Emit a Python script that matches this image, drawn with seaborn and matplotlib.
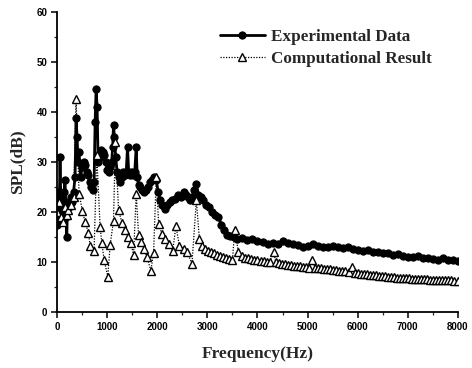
import matplotlib
matplotlib.use("Agg")
import matplotlib.pyplot as plt
import seaborn as sns
import pandas as pd
from matplotlib.ticker import MultipleLocator

exp_freq = [0, 20, 40, 60, 80, 100, 120, 140, 160, 180, 195, 210, 240, 270, 300, 330, 360,
            380, 400, 420, 440, 470, 500, 530, 560, 590, 620, 650, 680, 710, 740, 760, 780,
            800, 820, 850, 880, 910, 940, 970, 1000, 1030, 1060, 1090, 1110, 1127, 1145, 1170,
            1200, 1230, 1260, 1290, 1320, 1350, 1380, 1407, 1430, 1460, 1490, 1520, 1550, 1580,
            1600, 1630, 1660, 1700, 1740, 1780, 1820, 1860, 1900, 1940, 1980, 2020, 2060, 2100,
            2160, 2200, 2250, 2300, 2360, 2420, 2480, 2530, 2580, 2620, 2660, 2700, 2740, 2780,
            2820, 2870, 2920, 2970, 3030, 3090, 3150, 3220, 3280, 3330, 3400, 3460, 3530, 3600,
            3700, 3800, 3900, 4000, 4100, 4200, 4300, 4400, 4500, 4600, 4700, 4800, 4900, 5000,
            5100, 5200, 5300, 5400, 5500, 5600, 5700, 5800, 5900, 6000, 6100, 6200, 6300, 6400,
            6500, 6600, 6700, 6800, 6900, 7000, 7100, 7200, 7300, 7400, 7500, 7600, 7700, 7800,
            7900, 8000]
exp_spl = [17.5, 24, 18, 31, 20, 23, 18, 24, 26.5, 19, 15, 22, 21, 23, 22, 24, 27,
           38.8, 35, 30, 32, 27, 29, 30, 29.5, 28, 27.5, 26, 25, 24.5, 26, 38, 44.7,
           41, 30, 31, 32.4, 32, 31.5, 30, 28.5, 28, 29, 30, 33, 37.4, 35, 31,
           28, 27, 26, 27, 28, 27.5, 28, 33, 28, 27.5, 28, 27.5, 28, 33,
           27, 25.5, 25, 24.5, 24, 24.5, 25, 26, 26.5, 27, 26.4, 24, 22.4, 21.5,
           20.7, 21.5, 22, 22.5, 22.7, 23.5, 23, 24, 23.5, 23, 22.4, 23, 24.5, 25.7,
           23.5, 23, 22.4, 21.5, 21, 20, 19.5, 19, 17.5, 16.4, 15.5, 15.3, 15, 14.6,
           14.8, 14.4, 14.6, 14.2, 14, 13.6, 13.8, 13.7, 14.3, 13.9, 13.6, 13.4, 13.1, 13.3,
           13.6, 13.3, 13.1, 13, 13.2, 13, 12.9, 13, 12.6, 12.5, 12.3, 12.5, 12, 12.1,
           11.8, 11.9, 11.5, 11.6, 11.2, 11.1, 11, 11.3, 10.8, 10.9, 10.7, 10.5, 10.8, 10.4,
           10.5, 10.2]

comp_freq = [0, 40, 80, 120, 160, 200, 227, 280, 330, 380, 440, 507, 560, 627, 660, 740, 793,
             860, 893, 940, 1013, 1060, 1127, 1165, 1227, 1293, 1347, 1407, 1473, 1527, 1580,
             1627, 1680, 1740, 1793, 1873, 1927, 1980, 2027, 2093, 2160, 2227, 2307, 2373, 2440,
             2527, 2593, 2693, 2780, 2840, 2900, 2960, 3020, 3080, 3140, 3200, 3260, 3320, 3380,
             3440, 3500, 3545, 3620, 3700, 3760, 3820, 3880, 3940, 4000, 4060, 4120, 4180, 4240,
             4327, 4360, 4420, 4480, 4540, 4600, 4660, 4720, 4780, 4840, 4900, 4960, 5020, 5093,
             5150, 5210, 5270, 5330, 5390, 5450, 5510, 5570, 5630, 5690, 5750, 5820, 5893, 5950,
             6010, 6070, 6130, 6190, 6250, 6310, 6370, 6430, 6490, 6550, 6610, 6670, 6730, 6790,
             6850, 6910, 6970, 7030, 7090, 7150, 7210, 7270, 7330, 7390, 7450, 7510, 7570, 7630,
             7690, 7750, 7810, 7870, 7930, 8000]
comp_spl = [20, 22, 19, 18, 21, 19.5, 20.4, 21.4, 23, 42.6, 23.7, 20.2, 18, 15.9, 13.3, 12.3, 31.4,
            17.1, 13.9, 10.4, 7.1, 13.4, 18.3, 34, 20.5, 17.9, 16.4, 15.1, 13.9, 11.4, 23.7,
            15.4, 14.1, 12.7, 11, 8.3, 11.9, 27, 17.7, 15.6, 14.7, 13.7, 12.2, 17.2, 13.3,
            12.7, 12, 9.7, 22.4, 14.7, 13.2, 12.7, 12.3, 12, 11.8, 11.5, 11.3, 11.1, 10.9,
            10.7, 10.4, 16.4, 12, 11.2, 10.9, 10.8, 10.6, 10.5, 10.5, 10.3, 10.2, 10.1, 10,
            12.1, 10, 9.9, 9.7, 9.6, 9.5, 9.5, 9.3, 9.3, 9.2, 9.1, 9.0, 8.9, 10.4,
            8.9, 8.8, 8.8, 8.7, 8.6, 8.6, 8.5, 8.4, 8.3, 8.3, 8.2, 8.1, 9.1, 7.9,
            7.8, 7.7, 7.6, 7.6, 7.5, 7.4, 7.4, 7.3, 7.2, 7.2, 7.1, 7.0, 7.0, 6.9,
            6.9, 6.8, 6.8, 6.8, 6.7, 6.7, 6.7, 6.6, 6.6, 6.6, 6.5, 6.5, 6.5, 6.5,
            6.4, 6.4, 6.4, 6.4, 6.3, 6.3]

x_ticks = [0, 1000, 2000, 3000, 4000, 5000, 6000, 7000, 8000]
y_ticks = [0, 10, 20, 30, 40, 50, 60]

sns.set_theme(style="ticks")

exp_df = pd.DataFrame({"f": exp_freq, "spl": exp_spl})
comp_df = pd.DataFrame({"f": comp_freq, "spl": comp_spl})

fig = plt.figure(figsize=(4.72, 3.68), dpi=100)
ax = fig.add_axes([0.1208, 0.152, 0.8495, 0.815])

sns.lineplot(data=exp_df, x="f", y="spl", ax=ax, color="black", linewidth=2.0,
             marker="o", markersize=5.2, markeredgecolor="black", markerfacecolor="black",
             label="Experimental Data", sort=False)
sns.lineplot(data=comp_df, x="f", y="spl", ax=ax, color="black", linewidth=0.9,
             linestyle=(0, (1, 1.2)), marker="^", markersize=6, markeredgecolor="black",
             markerfacecolor="white", markeredgewidth=1.0,
             label="Computational Result", sort=False)

ax.set_xlim(0, 8000)
ax.set_ylim(0, 60)
ax.set_xticks(x_ticks)
ax.set_yticks(y_ticks)
ax.xaxis.set_minor_locator(MultipleLocator(500))
ax.yaxis.set_minor_locator(MultipleLocator(5))

for s in ["top", "right"]:
    ax.spines[s].set_visible(False)
for s in ["left", "bottom"]:
    ax.spines[s].set_linewidth(1.3)
    ax.spines[s].set_color("black")

ax.tick_params(axis="both", which="major", length=4, width=1.1, direction="out",
               labelsize=7, pad=3, colors="black")
ax.tick_params(axis="both", which="minor", length=2, width=0.9, direction="out")
for lab in ax.get_xticklabels() + ax.get_yticklabels():
    lab.set_fontfamily("Liberation Sans")
    lab.set_fontweight("bold")

ax.set_xlabel("Frequency(Hz)", fontfamily="Liberation Serif", fontweight="bold",
              fontsize=12.5, labelpad=10)
ax.set_ylabel("SPL(dB)", fontfamily="Liberation Serif", fontweight="bold",
              fontsize=12.5, labelpad=8)

leg = ax.legend(loc="upper left", bbox_to_anchor=(0.39, 0.965), frameon=False,
                prop={"family": "Liberation Serif", "weight": "bold", "size": 12.3},
                handlelength=2.6, handletextpad=0.4, labelspacing=0.3, borderaxespad=0)

fig.savefig("out.png", dpi=100)
